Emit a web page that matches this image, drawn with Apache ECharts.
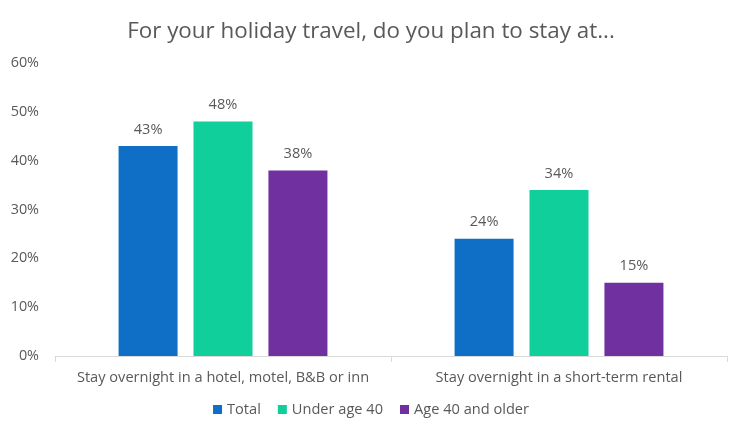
<!DOCTYPE html>
<html><head><meta charset="utf-8">
<script src="https://cdn.jsdelivr.net/npm/echarts@6/dist/echarts.min.js"></script>
<style>html,body{margin:0;padding:0;background:#fff}#c{width:742px;height:430px}</style>
</head><body><div id="c"></div>
<script>
const categories = ["Stay overnight in a hotel, motel, B&B or inn", "Stay overnight in a short-term rental"];
const seriesNames = ["Total", "Under age 40", "Age 40 and older"];
const total = [43, 24];
const under40 = [48, 34];
const over40 = [38, 15];
const colors = ["#0F6FC6", "#10CF9B", "#7030A0"];
const FONT = "'Open Sans', 'Liberation Sans', sans-serif";
const TXT = "#595959";
const chart = echarts.init(document.getElementById('c'), null, {renderer:'canvas'});
const vals = [total, under40, over40];
chart.setOption({
  animation:false,
  title:{text:"For your holiday travel, do you plan to stay at...", left:'center', top:16,
    textStyle:{fontFamily:FONT, fontSize:22.4, fontWeight:'normal', color:TXT}},
  grid:{left:55, right:15, top:63, bottom:74, containLabel:false},
  legend:{bottom:8, left:'center', itemWidth:9, itemHeight:9, itemGap:17, icon:'rect',
    textStyle:{fontFamily:FONT, fontSize:14.6, color:TXT}},
  xAxis:{type:'category', data:categories,
    axisLine:{lineStyle:{color:'#D9D9D9'}},
    axisTick:{show:true, length:6, lineStyle:{color:'#D9D9D9'}},
    axisLabel:{interval:0, fontFamily:FONT, fontSize:14.6, color:TXT, margin:14}},
  yAxis:{type:'value', min:0, max:60, interval:10,
    axisLine:{show:false}, axisTick:{show:false}, splitLine:{show:false},
    axisLabel:{formatter:'{value}%', fontFamily:FONT, fontSize:14.4, color:TXT, margin:16}},
  series: seriesNames.map((n,i)=>({name:n, type:'bar', data:vals[i], barWidth:59, barGap:'27%',
    itemStyle:{color:colors[i]},
    label:{show:true, position:'top', distance:9, formatter:'{c}%', fontFamily:FONT, fontSize:14.6, color:TXT}}))
});
</script></body></html>
